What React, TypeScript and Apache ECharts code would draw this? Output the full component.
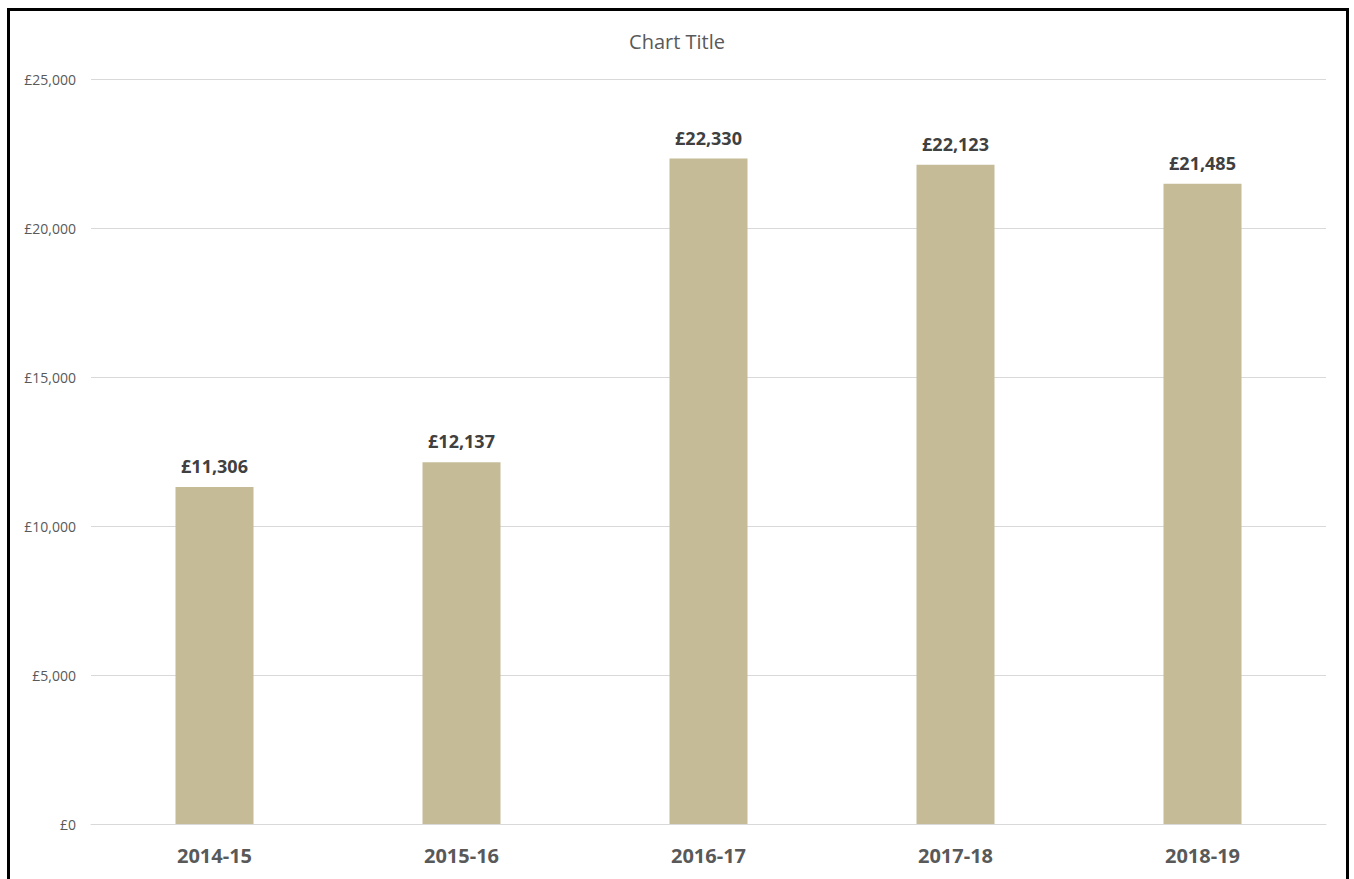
import React, { useEffect, useRef } from "react";
import * as echarts from "echarts";

const categories = ["2014-15", "2015-16", "2016-17", "2017-18", "2018-19"];
const values = [11306, 12137, 22330, 22123, 21485];
const yTicks = [0, 5000, 10000, 15000, 20000, 25000];
const title = "Chart Title";

const fmt = (v: number) => "£" + v.toLocaleString("en-GB");

export default function App() {
  const ref = useRef<HTMLDivElement>(null);
  useEffect(() => {
    if (!ref.current) return;
    const chart = echarts.init(ref.current, undefined, { renderer: "svg" });
    chart.setOption({
      animation: false,
      backgroundColor: "#ffffff",
      title: {
        text: title,
        left: "center",
        top: 26,
        textStyle: { fontFamily: "Open Sans", fontSize: 20, fontWeight: "normal", color: "#595959" },
      },
      grid: { left: 91, right: 28, top: 79, bottom: 55 },
      xAxis: {
        type: "category",
        data: categories,
        axisLine: { lineStyle: { color: "#d9d9d9" } },
        axisTick: { show: false },
        axisLabel: {
          margin: 21,
          fontFamily: "Open Sans",
          fontSize: 20,
          fontWeight: "bold",
          color: "#595959",
        },
      },
      yAxis: {
        type: "value",
        min: yTicks[0],
        max: yTicks[yTicks.length - 1],
        interval: yTicks[1] - yTicks[0],
        axisLine: { show: false },
        axisTick: { show: false },
        splitLine: { lineStyle: { color: "#d9d9d9", width: 1 } },
        axisLabel: {
          margin: 15,
          fontFamily: "Open Sans",
          fontSize: 14,
          color: "#595959",
          formatter: (v: number) => fmt(v),
        },
      },
      series: [
        {
          type: "bar",
          data: values,
          barWidth: 78,
          itemStyle: { color: "#c5bc97" },
          label: {
            show: true,
            position: "top",
            distance: 12,
            fontFamily: "Open Sans",
            fontSize: 18,
            fontWeight: "bold",
            color: "#404040",
            formatter: (p: any) => fmt(p.value),
          },
        },
      ],
      graphic: [
        {
          type: "rect",
          shape: { x: 8.5, y: 9.5, width: 1339, height: 920 },
          style: { fill: "none", stroke: "#000000", lineWidth: 3 },
          silent: true,
        },
      ],
    });
    return () => chart.dispose();
  }, []);
  return (
    <div
      ref={ref}
      style={{ position: "fixed", left: 0, top: 0, width: 1354, height: 879 }}
    />
  );
}
